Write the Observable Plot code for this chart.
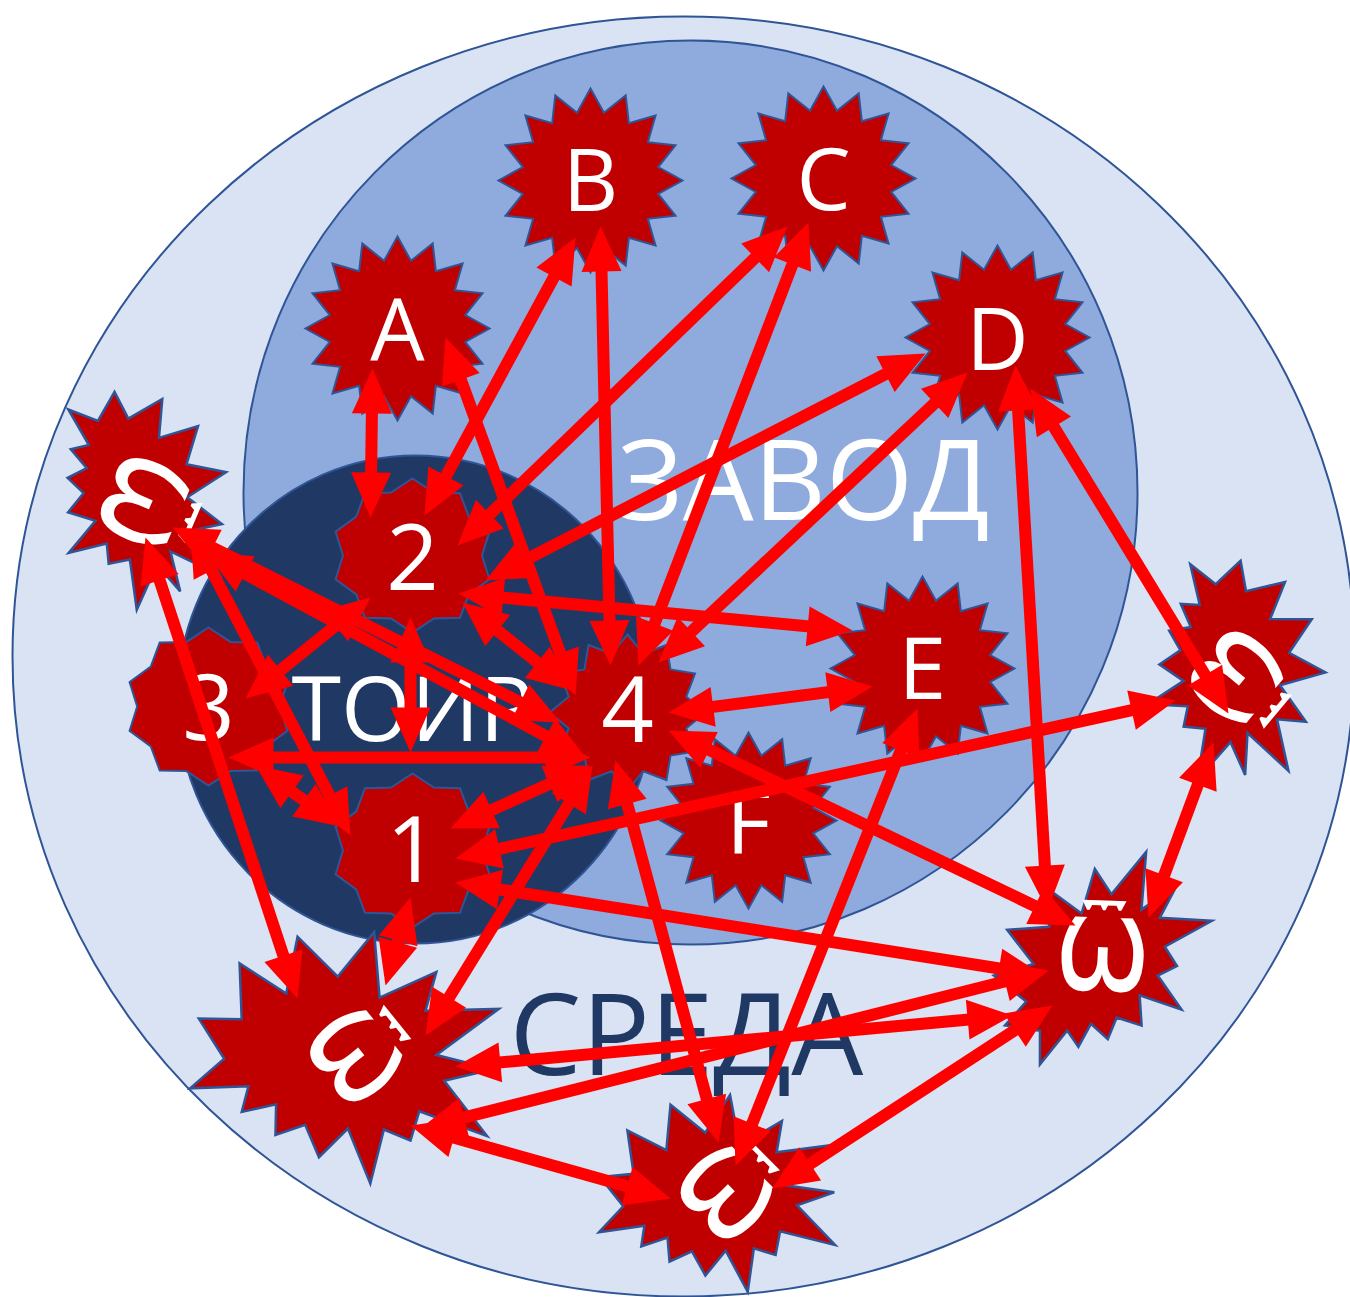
<!DOCTYPE html>
<html><head><meta charset="utf-8">
<script src="https://cdn.jsdelivr.net/npm/d3@7"></script>
<script src="https://cdn.jsdelivr.net/npm/@observablehq/plot@0.6"></script>
<style>body{margin:0;background:#fff;} svg{display:block}</style>
</head><body><div id="chart"></div>
<script>
// ---- data (diagram coordinates) ----
const zoneNames = ["СРЕДА", "ЗАВОД", "ТОИР"];
const zoneX = [683, 690, 415];
const zoneY = [656, 492, 699];
const zoneRX = [671, 447, 238];
const zoneRY = [640, 452, 244];
const zoneLabelX = [686, 803, 412];
const zoneLabelY = [1038, 484, 712];

const starNames = ["A", "B", "C", "D", "E", "F"];
const starX = [397, 590, 823, 997, 922, 748];
const starY = [328, 180, 178, 337, 668, 820];
const starLabelY = [333, 183, 182, 342, 671, 825];

const sealNames = ["1", "2", "3", "4"];
const sealX = [412, 412, 208, 627];
const sealY = [850, 555, 706, 712];
const sealLabelY = [852, 560, 710, 712];

const otNames = ["Ѿ", "Ѿ", "Ѿ", "Ѿ", "Ѿ"];
const otX = [140, 1233, 1102, 352, 723];
const otY = [500, 674, 958, 1058, 1195];
const otAngle = [113, 130, 2, 51, 45];

// double-headed arrows: tip 1 -> tip 2
const arrowFrom = ["A","B","C","D","A","B","C","D","2","2","4","2","2","3","3","Ѿ1","Ѿ1","Ѿ1","Ѿ1","4","Ѿ2","Ѿ3","4","1","4","E","D","D","Ѿ2","4","Ѿ4","Ѿ4","Ѿ4","Ѿ5"];
const arrowTo   = ["2","2","2","2","4","4","4","4","E","4","E","3","1","4","1","Ѿ4","1","4","4","1","1","1","Ѿ4","Ѿ4","Ѿ5","Ѿ5","Ѿ3","Ѿ2","Ѿ3","Ѿ3","Ѿ3","Ѿ3","Ѿ5","Ѿ3"];
const arrowX1 = [372, 575, 787, 925, 445, 600, 808, 967, 458, 462, 668, 370, 410, 228, 255, 145, 190, 172, 205, 590, 1175, 1043, 592, 410, 615, 917, 1015, 1030, 1213, 668, 455, 420, 410, 772];
const arrowY1 = [368, 237, 226, 353, 337, 226, 222, 372, 593, 602, 712, 597, 617, 757, 765, 537, 530, 527, 552, 765, 700, 975, 765, 897, 760, 708, 365, 388, 742, 730, 1066, 1128, 1125, 1188];
const arrowX2 = [370, 424, 457, 485, 575, 610, 638, 658, 852, 572, 872, 245, 410, 590, 340, 297, 350, 560, 585, 450, 455, 455, 425, 385, 718, 735, 1047, 1228, 1148, 1075, 1012, 1048, 670, 1052];
const arrowY2 = [517, 515, 545, 580, 695, 665, 665, 662, 630, 690, 686, 698, 752, 757, 826, 998, 835, 722, 757, 828, 858, 882, 1035, 985, 1142, 1165, 910, 713, 917, 925, 1015, 970, 1198, 1005];

// ---- styles ----
const W = 1350, H = 1297;
const zoneFill = ["#DAE3F3", "#8FAADC", "#203864"];
const zoneStroke = "#2F5597";
const zoneLabelColor = ["#203864", "#ffffff", "#ffffff"];
const zoneLabelSize = [114, 112, 90];
const zoneLabelWeight = [400, 400, 400];
const nodeFill = "#C00000";
const nodeStroke = "#2F5597";
const arrowColor = "#FF0000";
const starR = [92, 92, 92, 92, 92, 88];
const sealR = [77, 77, 79, 78];
const otR = [102, 104, 108, 145, 114];
const shaftWidth = 12, headLen = 45, headHalf = 20;

// ---- symbols (shape geometry) ----
function ellipseSymbol(aspect) {
  const k = 0.5522847;
  return {draw(ctx, size) {
    const rx = Math.sqrt(size / Math.PI), ry = rx * aspect;
    ctx.moveTo(rx, 0);
    ctx.bezierCurveTo(rx, ry * k, rx * k, ry, 0, ry);
    ctx.bezierCurveTo(-rx * k, ry, -rx, ry * k, -rx, 0);
    ctx.bezierCurveTo(-rx, -ry * k, -rx * k, -ry, 0, -ry);
    ctx.bezierCurveTo(rx * k, -ry, rx, -ry * k, rx, 0);
    ctx.closePath();
  }};
}
function starSymbol(n, inner, hf = 1) {
  return {draw(ctx, size) {
    const R = Math.sqrt(size / Math.PI);
    for (let i = 0; i < 2 * n; i++) {
      const a = -Math.PI / 2 + i * Math.PI / n;
      const rr = i % 2 ? R * inner : R;
      const x = rr * Math.cos(a) * hf, y = rr * Math.sin(a);
      i ? ctx.lineTo(x, y) : ctx.moveTo(x, y);
    }
    ctx.closePath();
  }};
}
const explosionTemplate = [[11462,4342],[14790,0],[14525,5777],[18007,3172],[16380,6532],[21600,6645],[16985,9402],[18270,11290],[16380,12310],[18877,15632],[14640,14350],[14942,17370],[12422,16650],[11612,18842],[9872,17370],[8700,19712],[7527,18125],[4917,21600],[4805,18240],[1285,17825],[3330,15370],[0,12877],[3935,11592],[1172,8270],[5372,7817],[4502,3625],[8550,6382],[9722,1887]];
const explosionSymbol = {draw(ctx, size) {
  const R = Math.sqrt(size / Math.PI);
  explosionTemplate.forEach(([px, py], i) => {
    const x = (px / 21600 - 0.5) * 2 * R, y = (py / 21600 - 0.5) * 2 * R;
    i ? ctx.lineTo(x, y) : ctx.moveTo(x, y);
  });
  ctx.closePath();
}};
const headSymbol = {draw(ctx, size) {
  const L = Math.sqrt(size / Math.PI);
  ctx.moveTo(0, 0);
  ctx.lineTo(-L, -L * headHalf / headLen);
  ctx.lineTo(-L, L * headHalf / headLen);
  ctx.closePath();
}};

// ---- tables ----
const zones = zoneNames.map((name, i) => ({name, x: zoneX[i], y: zoneY[i], rx: zoneRX[i], ry: zoneRY[i], lx: zoneLabelX[i], ly: zoneLabelY[i]}));
const stars = starNames.map((name, i) => ({name, x: starX[i], y: starY[i], ly: starLabelY[i], r: starR[i]}));
const seals = sealNames.map((name, i) => ({name, x: sealX[i], y: sealY[i], ly: sealLabelY[i], r: sealR[i]}));
const ots = otNames.map((name, i) => ({name, x: otX[i], y: otY[i], a: otAngle[i], r: otR[i]}));
const arrows = arrowX1.map((x1, i) => ({from: arrowFrom[i], to: arrowTo[i], x1, y1: arrowY1[i], x2: arrowX2[i], y2: arrowY2[i]}));
const trim = headLen * 0.6;
const shafts = arrows.map(d => {
  const dx = d.x2 - d.x1, dy = d.y2 - d.y1, L = Math.hypot(dx, dy), ux = dx / L, uy = dy / L;
  return {x1: d.x1 + ux * trim, y1: d.y1 + uy * trim, x2: d.x2 - ux * trim, y2: d.y2 - uy * trim};
});
const heads = arrows.flatMap(d => {
  const a = Math.atan2(d.y2 - d.y1, d.x2 - d.x1) * 180 / Math.PI;
  return [{x: d.x2, y: d.y2, a}, {x: d.x1, y: d.y1, a: a + 180}];
});

const zoneMarks = zones.map((z, i) => Plot.dot([z], {
  x: "x", y: "y", r: "rx", symbol: ellipseSymbol(z.ry / z.rx),
  fill: zoneFill[i], stroke: zoneStroke, strokeWidth: 2
}));
const zoneLabelMarks = zones.map((z, i) => Plot.text([z], {
  x: "lx", y: "ly", text: "name", fill: zoneLabelColor[i], fontSize: zoneLabelSize[i],
  fontFamily: "'Open Sans', 'Noto Sans', sans-serif", fontWeight: zoneLabelWeight[i]
}));

const chart = Plot.plot({
  width: W, height: H, margin: 0,
  x: {domain: [0, W], range: [0, W], axis: null},
  y: {domain: [0, H], range: [0, H], axis: null},
  r: {type: "identity"},
  style: {background: "white", overflow: "hidden"},
  marks: [
    zoneMarks[0], zoneMarks[1], zoneMarks[2],
    zoneLabelMarks[0], zoneLabelMarks[1], zoneLabelMarks[2],
    Plot.dot(seals.slice(0, 3), {x: "x", y: "y", r: "r", symbol: starSymbol(10, 0.86, 1.05), fill: nodeFill, stroke: nodeStroke, strokeWidth: 2, sort: null}),
    Plot.dot(seals.slice(3), {x: "x", y: "y", r: "r", symbol: starSymbol(12, 0.78), fill: nodeFill, stroke: nodeStroke, strokeWidth: 2, sort: null}),
    Plot.dot(stars, {x: "x", y: "y", r: "r", symbol: starSymbol(16, 0.75), fill: nodeFill, stroke: nodeStroke, strokeWidth: 2, sort: null}),
    Plot.dot(ots, {x: "x", y: "y", r: "r", rotate: "a", symbol: explosionSymbol, fill: nodeFill, stroke: nodeStroke, strokeWidth: 2.5, sort: null}),
    Plot.text(stars, {x: "x", y: "ly", text: "name", fill: "white", fontSize: 86, fontFamily: "'Open Sans', 'Noto Sans', sans-serif"}),
    Plot.text(seals, {x: "x", y: "ly", text: "name", fill: "white", fontSize: 92, fontFamily: "'Open Sans', 'Noto Sans', sans-serif"}),
    Plot.text(ots, {x: "x", y: "y", text: "name", rotate: "a", fill: "white", fontSize: 100, fontFamily: "'DejaVu Sans', sans-serif"}),
    Plot.link(shafts, {x1: "x1", y1: "y1", x2: "x2", y2: "y2", stroke: arrowColor, strokeWidth: shaftWidth, strokeLinecap: "butt"}),
    Plot.dot(heads, {x: "x", y: "y", r: headLen, rotate: "a", symbol: headSymbol, fill: arrowColor, stroke: "none"})
  ]
});
document.getElementById("chart").appendChild(chart);
</script></body></html>
